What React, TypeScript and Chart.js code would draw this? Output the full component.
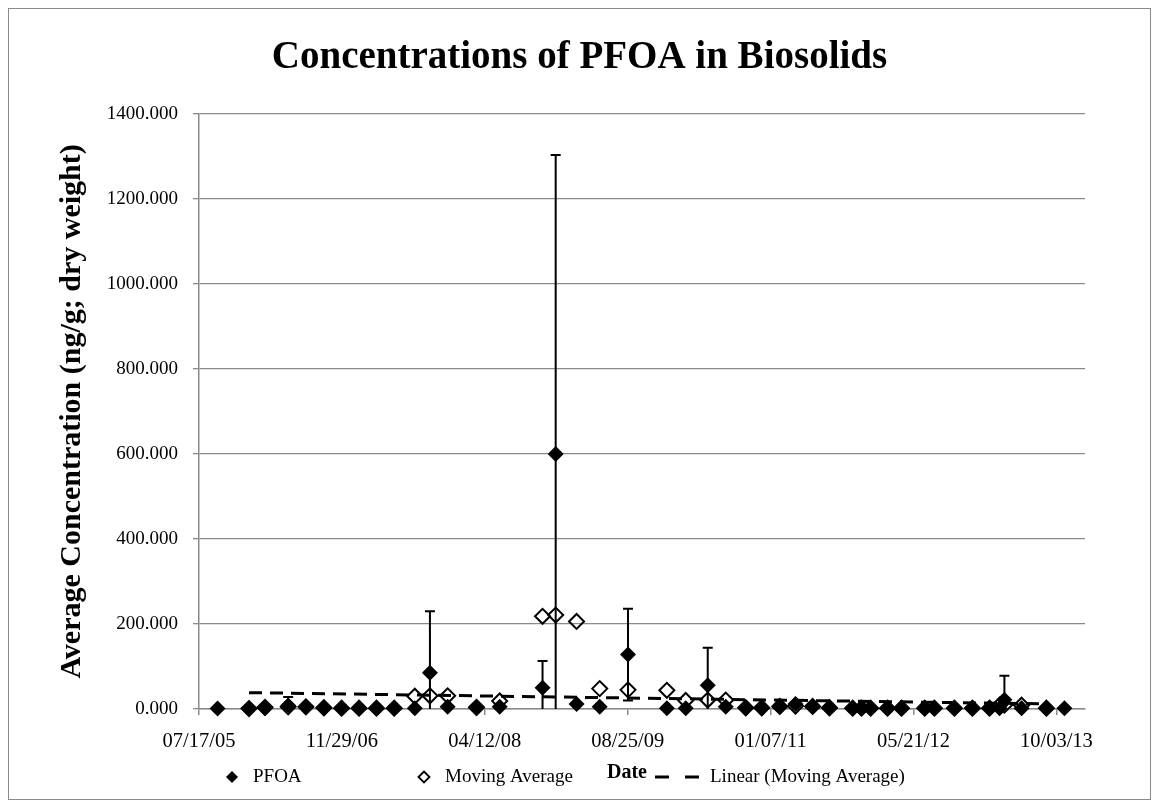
import React, { useEffect, useRef } from 'react';
import { Chart, registerables } from 'chart.js';

Chart.register(...registerables);

// Sample dates as spreadsheet serial day numbers (day 0 = 1899-12-30)
const sampleDays = [
  38615, 38725, 38781, 38862, 38924, 38987, 39049, 39110, 39171, 39233,
  39305, 39358, 39420, 39521, 39602, 39752, 39798, 39871, 39952, 40051,
  40187, 40253, 40330, 40393, 40463, 40519, 40582, 40637, 40697, 40756,
  40837, 40868, 40900, 40959, 41008, 41089, 41123, 41193, 41256, 41316,
  41351, 41368, 41428, 41515, 41578,
];

// Average PFOA concentration (ng/g dry weight)
const pfoa = [
  1, 2, 2, 8, 5, 2, 2, 2, 2, 2,
  2, 85, 5, 2, 5, 50, 600, 12, 5, 128,
  2, 2, 56, 5, 2, 2, 5, 12, 5, 2,
  2, 2, 2, 2, 2, 2, 2, 2, 2, 2,
  2, 22, 2, 2, 2,
];

// Standard deviation shown as error bars
const pfoaError = [
  0, 0, 0, 20, 0, 0, 0, 0, 0, 0,
  0, 145, 0, 0, 0, 63, 703, 0, 0, 108,
  0, 0, 88, 0, 0, 0, 0, 0, 0, 0,
  0, 0, 0, 0, 0, 0, 0, 0, 0, 0,
  0, 56, 0, 0, 0,
];

// Moving average series (no value at the first and last sample)
const movingAverage: (number | null)[] = [
  null, 1, 4, 5, 5, 3, 2, 2, 2, 2,
  30, 31, 31, 4, 19, 218, 221, 206, 48, 45,
  44, 20, 21, 21, 3, 3, 6, 7, 6, 3,
  2, 2, 2, 2, 2, 2, 2, 2, 2, 2,
  9, 9, 9, 2, null,
];

// Linear trend of the moving average (end points)
const trendDays = [38725, 41515];
const trendValues = [38.5, 12];

// Date axis ticks
const tickDays = [38550, 39050, 39550, 40050, 40550, 41050, 41550];
const tickLabels = ['07/17/05', '11/29/06', '04/12/08', '08/25/09', '01/07/11', '05/21/12', '10/03/13'];

const SERIF = '"Liberation Serif", "Times New Roman", serif';
const GRID = '#8a8a8a';

const framePlugin = {
  id: 'frame',
  beforeDraw(chart: any) {
    const { ctx, width, height } = chart;
    ctx.save();
    ctx.fillStyle = '#fff';
    ctx.fillRect(0, 0, width, height);
    ctx.strokeStyle = GRID;
    ctx.lineWidth = 1;
    ctx.strokeRect(0.5, 0.5, width - 1, height - 1);
    ctx.restore();
  },
};

const errorBarPlugin = {
  id: 'errorBars',
  afterDatasetsDraw(chart: any) {
    const { ctx, scales } = chart;
    const x = scales.x;
    const y = scales.y;
    ctx.save();
    ctx.strokeStyle = '#000';
    ctx.lineWidth = 2;
    sampleDays.forEach((d, i) => {
      const e = pfoaError[i];
      if (!e) return;
      const px = x.getPixelForValue(d);
      const hi = pfoa[i] + e;
      const lo = pfoa[i] - e;
      const yHi = y.getPixelForValue(Math.min(hi, y.max));
      const yLo = y.getPixelForValue(Math.max(lo, y.min));
      ctx.beginPath();
      ctx.moveTo(px, yHi);
      ctx.lineTo(px, yLo);
      if (hi <= y.max) {
        ctx.moveTo(px - 5, yHi);
        ctx.lineTo(px + 5, yHi);
      }
      if (lo >= y.min) {
        ctx.moveTo(px - 5, yLo);
        ctx.lineTo(px + 5, yLo);
      }
      ctx.stroke();
    });
    ctx.restore();
  },
};

function diamond(ctx: CanvasRenderingContext2D, cx: number, cy: number, r: number) {
  ctx.beginPath();
  ctx.moveTo(cx - r, cy);
  ctx.lineTo(cx, cy - r);
  ctx.lineTo(cx + r, cy);
  ctx.lineTo(cx, cy + r);
  ctx.closePath();
}

// Bottom row: series legend with the "Date" axis title sitting between its entries
const legendPlugin = {
  id: 'seriesLegend',
  afterDraw(chart: any) {
    const { ctx } = chart;
    const cy = 769;
    ctx.save();
    ctx.fillStyle = '#000';
    ctx.strokeStyle = '#000';
    ctx.textBaseline = 'middle';
    ctx.textAlign = 'left';
    ctx.font = `19px ${SERIF}`;

    diamond(ctx, 224, cy, 6);
    ctx.fill();
    ctx.fillText('PFOA', 245, cy);

    diamond(ctx, 416, cy, 5.5);
    ctx.lineWidth = 1.8;
    ctx.stroke();
    ctx.fillText('Moving Average', 437, cy);

    ctx.beginPath();
    ctx.setLineDash([14, 16]);
    ctx.lineWidth = 3;
    ctx.moveTo(647, cy);
    ctx.lineTo(691, cy);
    ctx.stroke();
    ctx.setLineDash([]);
    ctx.fillText('Linear (Moving Average)', 702, cy);

    ctx.font = `bold 20px ${SERIF}`;
    ctx.textAlign = 'center';
    ctx.fillText('Date', 619, cy - 4);
    ctx.restore();
  },
};

export default function App() {
  const ref = useRef<HTMLCanvasElement>(null);

  useEffect(() => {
    const canvas = ref.current;
    if (!canvas) return;

    const pfoaPoints = sampleDays.map((d, i) => ({ x: d, y: pfoa[i] }));
    const maPoints = sampleDays
      .map((d, i) => ({ x: d, y: movingAverage[i] }))
      .filter((p) => p.y !== null) as { x: number; y: number }[];
    const trendPoints = trendDays.map((d, i) => ({ x: d, y: trendValues[i] }));

    const chart = new Chart(canvas, {
      type: 'scatter',
      data: {
        datasets: [
          {
            label: 'Linear (Moving Average)',
            data: trendPoints,
            showLine: true,
            borderColor: '#000',
            borderWidth: 3,
            borderDash: [13, 8],
            pointRadius: 0,
            fill: false,
            clip: false,
          } as any,
          {
            label: 'Moving Average',
            data: maPoints,
            pointStyle: 'rectRot',
            pointRadius: 7.5,
            backgroundColor: 'rgba(0,0,0,0)',
            borderColor: '#000',
            borderWidth: 2,
            clip: false,
          } as any,
          {
            label: 'PFOA',
            data: pfoaPoints,
            pointStyle: 'rectRot',
            pointRadius: 8,
            backgroundColor: '#000',
            borderColor: '#000',
            borderWidth: 0,
            clip: false,
          } as any,
        ],
      },
      options: {
        responsive: false,
        animation: false,
        devicePixelRatio: 1,
        layout: { padding: { left: 0, right: 0, top: 0, bottom: 5 } },
        plugins: {
          legend: { display: false },
          tooltip: { enabled: false },
          title: {
            display: true,
            text: 'Concentrations of PFOA in Biosolids',
            color: '#000',
            font: { family: SERIF, size: 39, weight: 'bold' },
            padding: { top: 27, bottom: 32 },
          },
        },
        scales: {
          x: {
            type: 'linear',
            min: 38550,
            max: 41650,
            afterBuildTicks: (s: any) => {
              s.ticks = tickDays.map((v) => ({ value: v }));
            },
            afterFit: (s: any) => {
              s.height = 86;
            },
            ticks: {
              autoSkip: false,
              maxRotation: 0,
              padding: 14,
              color: '#000',
              font: { family: SERIF, size: 20.5 },
              callback: (v: any) => {
                const k = tickDays.indexOf(Number(v));
                return k >= 0 ? tickLabels[k] : '';
              },
            },
            grid: {
              drawOnChartArea: false,
              drawTicks: true,
              tickLength: 6,
              color: GRID,
              lineWidth: 1.5,
            },
            border: { display: true, color: GRID, width: 1.5 },
          },
          y: {
            min: 0,
            max: 1400,
            afterFit: (s: any) => {
              s.width = 191;
            },
            ticks: {
              stepSize: 200,
              padding: 15,
              color: '#000',
              font: { family: SERIF, size: 19 },
              callback: (v: any) => Number(v).toFixed(3),
            },
            grid: {
              color: GRID,
              lineWidth: 1.3,
              drawTicks: true,
              tickLength: 6,
            },
            border: { display: true, color: GRID, width: 1.5 },
            title: {
              display: true,
              text: 'Average Concentration (ng/g; dry weight)',
              color: '#000',
              font: { family: SERIF, size: 30, weight: 'bold' },
              padding: { top: 46, bottom: 0 },
            },
          },
          // empty right-hand margin so the plot stops short of the frame
          rightMargin: {
            type: 'linear',
            position: 'right',
            afterFit: (s: any) => {
              s.width = 66;
            },
            ticks: { display: false },
            grid: { display: false, drawTicks: false },
            border: { display: false },
          },
        },
      } as any,
      plugins: [framePlugin, errorBarPlugin, legendPlugin],
    });

    return () => chart.destroy();
  }, []);

  return <canvas ref={ref} width={1143} height={792} style={{ display: 'block' }} />;
}
